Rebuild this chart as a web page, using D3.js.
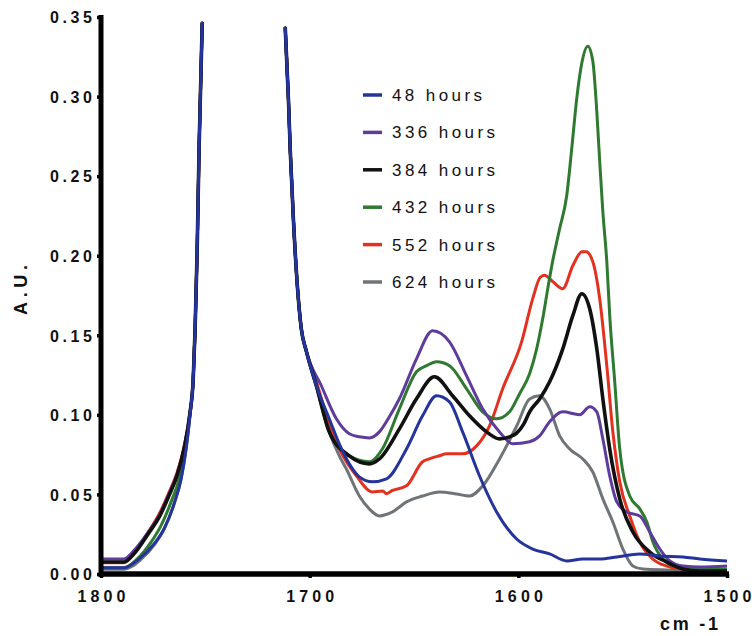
<!DOCTYPE html>
<html>
<head>
<meta charset="utf-8">
<script src="https://cdn.jsdelivr.net/npm/d3@7/dist/d3.min.js"></script>
<style>
  html, body { margin: 0; padding: 0; background: #fff; }
  svg { display: block; }
  text { font-family: "Liberation Sans", Arial, Helvetica, sans-serif; fill: #111; }
</style>
</head>
<body>
<svg id="chart" width="752" height="636"></svg>
<script>
// ---------------- DATA ----------------
const seriesNames = ["48 hours", "336 hours", "384 hours", "432 hours", "552 hours", "624 hours"];
const xTicks = [1800, 1700, 1600, 1500];
const yTicks = [0, 0.05, 0.10, 0.15, 0.20, 0.25, 0.30, 0.35];

// shared steep flanks of the off-scale ester band
const upperLeft = [[1755.8,0.1227],[1754.9,0.154],[1753.9,0.2045],[1753,0.2675],[1751.5,0.346]];
const upperRight = [[1711.7,0.343],[1710.2,0.299],[1709.3,0.266],[1707.8,0.223],[1705.9,0.181],[1704,0.154],[1701.6,0.140]];

// low-wavenumber rise of each series (1800 -> ~1757)
const left48  = [[1800,0.004],[1789,0.004],[1781.8,0.0094],[1774.6,0.0189],[1769.8,0.0283],[1765,0.044],[1761.6,0.0598],[1759.2,0.0787],[1757.3,0.1007]];
const left336 = [[1800,0.0095],[1789,0.0095],[1784,0.015],[1777,0.027],[1772,0.037],[1767.5,0.05],[1763.5,0.063],[1760,0.08],[1757.5,0.1]];
const left384 = [[1800,0.0075],[1789,0.0075],[1784,0.013],[1777,0.026],[1772,0.036],[1767.5,0.049],[1763.5,0.062],[1760,0.08],[1757.5,0.1]];
const left432 = [[1800,0.004],[1789,0.004],[1783,0.009],[1776,0.02],[1771,0.031],[1766.5,0.045],[1762.5,0.06],[1759.5,0.079],[1757.4,0.1]];
const left552 = [[1800,0.007],[1789,0.007],[1784,0.013],[1777,0.027],[1772,0.038],[1767.5,0.051],[1763.5,0.064],[1760,0.081],[1757.5,0.1]];
const left624 = [[1800,0.003],[1789,0.003],[1781,0.009],[1774,0.019],[1769.5,0.029],[1765,0.044],[1761.6,0.06],[1759.2,0.079],[1757.3,0.1]];

// amide region of each series (1700 -> 1500)
const tail48 = [[1696.3,0.1164],[1690.6,0.0975],[1685.8,0.0818],[1681,0.0692],[1676.2,0.061],[1670,0.0579],[1663.2,0.0598],[1653.6,0.0786],[1645.9,0.0994],[1639.2,0.112],[1633,0.1082],[1626.7,0.0893],[1618.6,0.0616],[1610.4,0.039],[1600.8,0.022],[1593.1,0.0157],[1585,0.0126],[1576.8,0.0082],[1569.1,0.0094],[1561,0.0094],[1552.8,0.0107],[1541.8,0.0126],[1532.2,0.0113],[1521.1,0.0107],[1513,0.0094],[1500,0.0082]];
const tail336 = [[1694.4,0.1183],[1687.2,0.0975],[1681,0.0881],[1676.2,0.0862],[1671.4,0.0855],[1666.6,0.0893],[1661.8,0.0988],[1657,0.1101],[1648.8,0.1352],[1641.1,0.1528],[1633,0.1459],[1624.8,0.1245],[1617.1,0.1038],[1609,0.0893],[1602.7,0.0818],[1594.6,0.0831],[1589.8,0.0868],[1585,0.0957],[1578.7,0.1019],[1570.6,0.1001],[1565.8,0.1051],[1562.4,0.1019],[1559.5,0.0849],[1556.2,0.0617],[1552.8,0.0453],[1548,0.039],[1541.8,0.0365],[1537,0.0264],[1532.2,0.0157],[1527.4,0.0082],[1521.1,0.005],[1513,0.0044],[1500,0.005]];
const tail384 = [[1696.8,0.1183],[1690.6,0.0893],[1681,0.0742],[1671.4,0.0692],[1666.6,0.0723],[1657,0.0912],[1648.8,0.1101],[1640.2,0.1239],[1631.5,0.112],[1623.4,0.0994],[1615.2,0.0893],[1609,0.0849],[1604.2,0.0862],[1600.8,0.0885],[1597.5,0.094],[1594.6,0.1019],[1589.8,0.11],[1585,0.1208],[1578.7,0.1415],[1573.9,0.1623],[1569.6,0.1761],[1565.8,0.1667],[1562.4,0.1415],[1559.5,0.1101],[1556.2,0.0786],[1551.4,0.0472],[1545.1,0.0264],[1537,0.0138],[1528.8,0.0075],[1521.1,0.0031],[1513,0.0019],[1500,0.0019]];
const tail432 = [[1696.8,0.1183],[1690.6,0.0893],[1681,0.0742],[1671.4,0.0705],[1665.1,0.0787],[1657,0.1038],[1648.8,0.1271],[1644,0.1309],[1639.2,0.1334],[1633,0.1309],[1624.8,0.1164],[1617.1,0.1019],[1610.4,0.0975],[1604.2,0.1019],[1599.4,0.1133],[1594.6,0.1258],[1591.2,0.1416],[1588.3,0.1605],[1585.9,0.1793],[1583.5,0.1969],[1580.2,0.217],[1576.8,0.2378],[1574.4,0.2674],[1572,0.2989],[1569.6,0.3209],[1566.7,0.3316],[1564.3,0.3222],[1562.4,0.2907],[1561,0.2592],[1559.5,0.2277],[1557.6,0.1962],[1556.2,0.1623],[1553.8,0.1208],[1551.4,0.0786],[1546.6,0.049],[1541.8,0.0409],[1538.4,0.0327],[1535.5,0.0201],[1530.7,0.0094],[1524,0.0044],[1513,0.0031],[1500,0.0031]];
const tail552 = [[1696.8,0.1208],[1690.6,0.0944],[1685.8,0.0787],[1677.6,0.0617],[1670,0.0516],[1665,0.0522],[1663.2,0.0505],[1660.3,0.0525],[1653.6,0.0554],[1645.9,0.0705],[1642.6,0.0724],[1637.8,0.0743],[1634.4,0.0755],[1626.7,0.0755],[1620,0.0805],[1613.8,0.0931],[1607.5,0.1164],[1598.4,0.146],[1593.1,0.173],[1589.5,0.1865],[1587.5,0.1878],[1583.5,0.1837],[1578.7,0.1793],[1573.9,0.1937],[1569.5,0.2025],[1567.5,0.2025],[1564.3,0.1962],[1561,0.1729],[1557.6,0.1308],[1554.7,0.0893],[1551.4,0.0579],[1546.6,0.0365],[1541.8,0.0201],[1535.5,0.0094],[1528.8,0.005],[1521.1,0.0031],[1500,0.0019]];
const tail624 = [[1696.8,0.1183],[1690.6,0.0893],[1685.8,0.0742],[1682.4,0.066],[1676.2,0.049],[1671.4,0.0409],[1666.6,0.0365],[1660.3,0.039],[1653.6,0.0453],[1645.9,0.049],[1637.8,0.0516],[1629.6,0.0503],[1623.4,0.049],[1617.1,0.0553],[1609,0.0723],[1600.8,0.093],[1594.6,0.11],[1589.8,0.112],[1585,0.1038],[1580.2,0.0868],[1575.4,0.0786],[1569.1,0.0723],[1564.3,0.0641],[1559.5,0.0472],[1554.7,0.0327],[1549.9,0.0157],[1545.1,0.005],[1540.3,0.0031],[1528.8,0.0025],[1500,0.0019]];

const lefts = [left48, left336, left384, left432, left552, left624];
const tails = [tail48, tail336, tail384, tail432, tail552, tail624];

// ---------------- STYLE ----------------
const colors = ["#25349a", "#5e3c9c", "#111111", "#2f7a30", "#e2321f", "#6f7479"];
const widths = [3, 3, 3.6, 3, 3, 3];
const FONT = '"Liberation Sans", Arial, Helvetica, sans-serif';

// ---------------- CHART ----------------
const svg = d3.select("#chart");
const x = d3.scaleLinear().domain([1800, 1500]).range([101, 727]);
const y = d3.scaleLinear().domain([0, 0.35]).range([574, 17]);

svg.append("defs").append("clipPath").attr("id", "plotclip")
  .append("rect").attr("x", 101).attr("y", 17).attr("width", 626).attr("height", 557);

const series = seriesNames.map((name, i) => ({
  name, color: colors[i], width: widths[i],
  values: [...lefts[i], ...upperLeft, null, ...upperRight, ...tails[i]]
}));

const line = d3.line()
  .defined(d => d !== null)
  .x(d => x(d[0]))
  .y(d => y(d[1]))
  .curve(d3.curveMonotoneX);

const drawOrder = [5, 4, 3, 1, 2, 0];
svg.append("g").attr("clip-path", "url(#plotclip)")
  .selectAll("path")
  .data(drawOrder.map(i => series[i]))
  .join("path")
  .attr("d", d => line(d.values))
  .attr("fill", "none")
  .attr("stroke", d => d.color)
  .attr("stroke-width", d => d.width)
  .attr("stroke-linejoin", "round")
  .attr("stroke-linecap", "round");

// axes
const yAxis = d3.axisLeft(y).tickValues(yTicks).tickFormat(d3.format(".2f")).tickSize(4).tickSizeOuter(0).tickPadding(5);
const gy = svg.append("g").attr("transform", "translate(101,0)").call(yAxis);
gy.select(".domain").attr("stroke", "#000").attr("stroke-width", 5).attr("d", "M0,15V577");
gy.selectAll(".tick line").attr("stroke", "#000").attr("stroke-width", 3.5);
gy.selectAll(".tick text")
  .attr("font-family", FONT).attr("font-size", 16).attr("font-weight", "bold").attr("fill", "#111")
  .attr("textLength", 42).attr("lengthAdjust", "spacing").attr("dy", "0.36em");

const xAxis = d3.axisBottom(x).tickValues(xTicks).tickFormat(d3.format("d")).tickSize(4).tickSizeOuter(0).tickPadding(13);
const gx = svg.append("g").attr("transform", "translate(0,574)").call(xAxis);
gx.select(".domain").attr("stroke", "#000").attr("stroke-width", 5.5).attr("d", "M99,0H729");
gx.selectAll(".tick line").attr("stroke", "#000").attr("stroke-width", 3.5);
gx.selectAll(".tick text")
  .attr("font-family", FONT).attr("font-size", 16).attr("font-weight", "bold").attr("fill", "#111")
  .attr("textLength", 48).attr("lengthAdjust", "spacing");

// axis titles
svg.append("text")
  .attr("transform", "translate(27,290) rotate(-90)")
  .attr("text-anchor", "middle")
  .attr("font-size", 18).attr("font-weight", "bold")
  .attr("textLength", 50).attr("lengthAdjust", "spacing")
  .text("A.U.");

svg.append("text")
  .attr("x", 660).attr("y", 630)
  .attr("font-size", 18).attr("font-weight", "bold")
  .attr("textLength", 58).attr("lengthAdjust", "spacing")
  .text("cm -1");

// legend
const legend = svg.append("g");
const rows = legend.selectAll("g").data(series).join("g")
  .attr("transform", (d, i) => `translate(363,${95 + i * 37.4})`);
rows.append("line").attr("x1", 0).attr("x2", 19).attr("y1", 0).attr("y2", 0)
  .attr("stroke", d => d.color).attr("stroke-width", 3.5);
rows.append("text")
  .attr("x", 29).attr("y", 6)
  .attr("font-size", 17)
  .attr("textLength", d => d.name.length === 8 ? 90 : 103)
  .attr("lengthAdjust", "spacing")
  .text(d => d.name);
</script>
</body>
</html>
